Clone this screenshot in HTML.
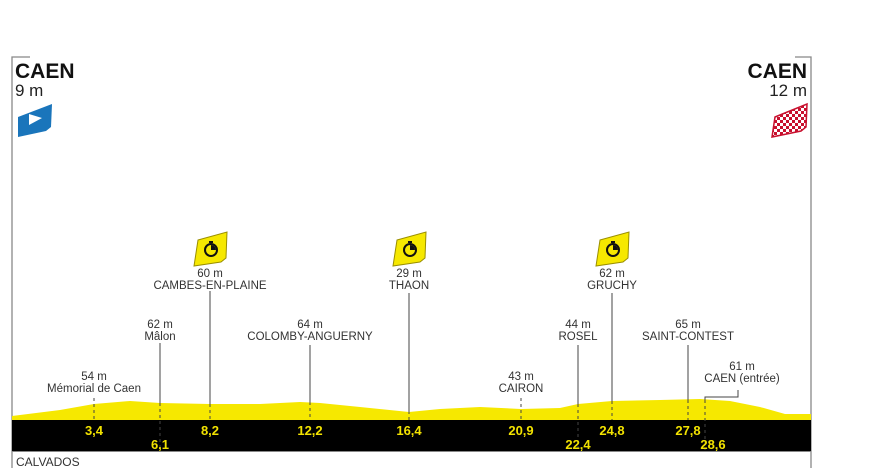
<!DOCTYPE html>
<html><head><meta charset="utf-8"><style>
html,body{margin:0;padding:0;background:#fff;}
svg{display:block;}
text{font-family:"Liberation Sans",sans-serif;}
.l{font-size:11.5px;fill:#333;text-anchor:middle;}
.k{font-size:13px;font-weight:bold;fill:#f2e200;text-anchor:middle;}
</style></head><body>
<svg width="880" height="468" viewBox="0 0 880 468" xmlns="http://www.w3.org/2000/svg">
<path d="M30 57 H12 V468" fill="none" stroke="#888" stroke-width="1.3"/>
<path d="M795 57 H811 V468" fill="none" stroke="#888" stroke-width="1.3"/>
<text x="15" y="78" font-size="21" font-weight="bold" fill="#111">CAEN</text>
<text x="15" y="96" font-size="17" fill="#222">9 m</text>
<path d="M18 117 L52 104 L51 127 L46 131 L18 137 Z" fill="#1a75bb"/>
<path d="M29 114 L42 118 L29 125 Z" fill="#fff"/>
<text x="807" y="78" font-size="21" font-weight="bold" fill="#111" text-anchor="end">CAEN</text>
<text x="807" y="96" font-size="17" fill="#222" text-anchor="end">12 m</text>
<defs><pattern id="ch" width="6" height="6" patternUnits="userSpaceOnUse"><rect width="6" height="6" fill="#fff"/><rect width="3" height="3" fill="#c8102e"/><rect x="3" y="3" width="3" height="3" fill="#c8102e"/></pattern></defs>
<path d="M775 117 L807 104 L806 127 L801 131 L772 137 Z" fill="url(#ch)" stroke="#c8102e" stroke-width="1.5"/>
<path d="M12 416 L60 410 L94 404 L130 401 L160 403 L210 404 L260 404 L300 402 L320 403 L360 407 L409 412 L440 409 L480 407 L521 409 L560 408 L578 404 L612 401 L660 400 L700 399 L730 401 L760 407 L785 414 L811 414 L811 420 L12 420 Z" fill="#f6e800"/>
<rect x="12" y="420" width="799" height="31" fill="#000"/>
<line x1="12" y1="451.5" x2="811" y2="451.5" stroke="#888"/>
<g stroke="#444" stroke-width="1">
<line x1="160" y1="343" x2="160" y2="403"/>
<line x1="210" y1="291" x2="210" y2="404"/>
<line x1="310" y1="345" x2="310" y2="402"/>
<line x1="409" y1="293" x2="409" y2="411"/>
<line x1="578" y1="345" x2="578" y2="404"/>
<line x1="612" y1="293" x2="612" y2="401"/>
<line x1="688" y1="345" x2="688" y2="400"/>
<path d="M738 390 V397 H705 V400" fill="none"/>
</g>
<g stroke="#444" stroke-width="1" stroke-dasharray="3,3">
<line x1="94" y1="398" x2="94" y2="420"/>
<line x1="160" y1="403" x2="160" y2="450"/>
<line x1="210" y1="404" x2="210" y2="420"/>
<line x1="310" y1="402" x2="310" y2="420"/>
<line x1="409" y1="411" x2="409" y2="420"/>
<line x1="521" y1="398" x2="521" y2="420"/>
<line x1="578" y1="404" x2="578" y2="450"/>
<line x1="612" y1="401" x2="612" y2="420"/>
<line x1="688" y1="400" x2="688" y2="420"/>
<line x1="705" y1="400" x2="705" y2="450"/>
</g>
<text class="k" x="94" y="435">3,4</text>
<text class="k" x="160" y="449">6,1</text>
<text class="k" x="210" y="435">8,2</text>
<text class="k" x="310" y="435">12,2</text>
<text class="k" x="409" y="435">16,4</text>
<text class="k" x="521" y="435">20,9</text>
<text class="k" x="578" y="449">22,4</text>
<text class="k" x="612" y="435">24,8</text>
<text class="k" x="688" y="435">27,8</text>
<text class="k" x="713" y="449">28,6</text>
<text x="16" y="466" font-size="12" fill="#333">CALVADOS</text>
<text class="l" x="94" y="380">54 m</text><text class="l" x="94" y="392">Mémorial de Caen</text>
<text class="l" x="160" y="328">62 m</text><text class="l" x="160" y="340">Mâlon</text>
<text class="l" x="210" y="277">60 m</text><text class="l" x="210" y="289">CAMBES-EN-PLAINE</text>
<text class="l" x="310" y="328">64 m</text><text class="l" x="310" y="340">COLOMBY-ANGUERNY</text>
<text class="l" x="409" y="277">29 m</text><text class="l" x="409" y="289">THAON</text>
<text class="l" x="521" y="380">43 m</text><text class="l" x="521" y="392">CAIRON</text>
<text class="l" x="578" y="328">44 m</text><text class="l" x="578" y="340">ROSEL</text>
<text class="l" x="612" y="277">62 m</text><text class="l" x="612" y="289">GRUCHY</text>
<text class="l" x="688" y="328">65 m</text><text class="l" x="688" y="340">SAINT-CONTEST</text>
<text class="l" x="742" y="370">61 m</text><text class="l" x="742" y="382">CAEN (entrée)</text>
<g id="sp">
<path d="M198 240 L227 232 L226 258 L221 262 L194 266 Z" fill="#f6e800" stroke="#9a8f00" stroke-width="1"/>
<circle cx="211" cy="250" r="6" fill="none" stroke="#111" stroke-width="2"/>
<path d="M211 250 V245 A5 5 0 0 1 216 250 Z" fill="#111"/>
<rect x="209" y="241" width="4" height="2" fill="#111"/>
</g>
<use href="#sp" x="199"/>
<use href="#sp" x="402"/>
</svg>
</body></html>
